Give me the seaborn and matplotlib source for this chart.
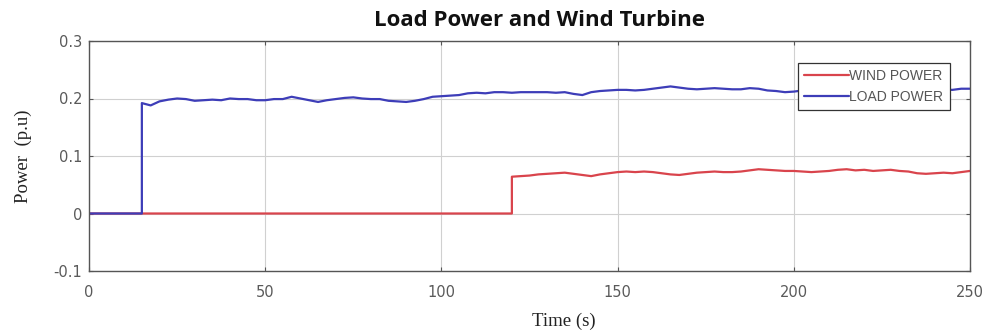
import numpy as np
import pandas as pd
import matplotlib
matplotlib.use("Agg")
import matplotlib.pyplot as plt
import seaborn as sns

# ---- data ----
load_t = [0, 15, 15, 17.5, 20, 22.5, 25, 27.5, 30, 32.5, 35, 37.5, 40, 42.5, 45, 47.5, 50,
          52.5, 55, 57.5, 60, 62.5, 65, 67.5, 70, 72.5, 75, 77.5, 80, 82.5, 85, 87.5, 90,
          92.5, 95, 97.5, 100, 102.5, 105, 107.5, 110, 112.5, 115, 117.5, 120, 122.5, 125,
          127.5, 130, 132.5, 135, 137.5, 140, 142.5, 145, 147.5, 150, 152.5, 155, 157.5,
          160, 162.5, 165, 167.5, 170, 172.5, 175, 177.5, 180, 182.5, 185, 187.5, 190,
          192.5, 195, 197.5, 200, 202.5, 205, 210, 215, 220, 225, 230, 235, 240, 245,
          247.5, 250]
load_p = [0, 0, 0.192, 0.188, 0.195, 0.198, 0.200, 0.199, 0.196, 0.197, 0.198, 0.197, 0.200,
          0.199, 0.199, 0.197, 0.197, 0.199, 0.199, 0.203, 0.200, 0.197, 0.194, 0.197, 0.199,
          0.201, 0.202, 0.200, 0.199, 0.199, 0.196, 0.195, 0.194, 0.196, 0.199, 0.203, 0.204,
          0.205, 0.206, 0.209, 0.210, 0.209, 0.211, 0.211, 0.210, 0.211, 0.211, 0.211, 0.211,
          0.210, 0.211, 0.208, 0.206, 0.211, 0.213, 0.214, 0.215, 0.215, 0.214, 0.215, 0.217,
          0.219, 0.221, 0.219, 0.217, 0.216, 0.217, 0.218, 0.217, 0.216, 0.216, 0.218, 0.217,
          0.214, 0.213, 0.211, 0.212, 0.214, 0.215, 0.214, 0.216, 0.215, 0.214, 0.216, 0.215,
          0.216, 0.215, 0.217, 0.217]

wind_t = [0, 120, 120, 122.5, 125, 127.5, 130, 132.5, 135, 137.5, 140, 142.5, 145, 147.5,
          150, 152.5, 155, 157.5, 160, 162.5, 165, 167.5, 170, 172.5, 175, 177.5, 180,
          182.5, 185, 187.5, 190, 192.5, 195, 197.5, 200, 202.5, 205, 207.5, 210, 212.5,
          215, 217.5, 220, 222.5, 225, 227.5, 230, 232.5, 235, 237.5, 240, 242.5, 245,
          247.5, 250]
wind_p = [0, 0, 0.064, 0.065, 0.066, 0.068, 0.069, 0.070, 0.071, 0.069, 0.067, 0.065, 0.068,
          0.070, 0.072, 0.073, 0.072, 0.073, 0.072, 0.070, 0.068, 0.067, 0.069, 0.071, 0.072,
          0.073, 0.072, 0.072, 0.073, 0.075, 0.077, 0.076, 0.075, 0.074, 0.074, 0.073, 0.072,
          0.073, 0.074, 0.076, 0.077, 0.075, 0.076, 0.074, 0.075, 0.076, 0.074, 0.073, 0.070,
          0.069, 0.070, 0.071, 0.070, 0.072, 0.074]

series_names = ["WIND POWER", "LOAD POWER"]
series_colors = ["#d9444c", "#3d3db8"]
x_ticks = [0, 50, 100, 150, 200, 250]
y_ticks = [-0.1, 0, 0.1, 0.2, 0.3]
y_tick_labels = ["-0.1", "0", "0.1", "0.2", "0.3"]

df = pd.concat([
    pd.DataFrame({"t": wind_t, "p": wind_p, "series": series_names[0]}),
    pd.DataFrame({"t": load_t, "p": load_p, "series": series_names[1]}),
], ignore_index=True)

sns.set_style("whitegrid", {
    "axes.edgecolor": "#4d4d4d",
    "grid.color": "#d0d0d0",
    "xtick.direction": "in",
    "ytick.direction": "in",
    "xtick.bottom": True,
    "ytick.left": True,
    "xtick.top": True,
    "ytick.right": True,
})
plt.rcParams["font.family"] = ["Liberation Sans", "DejaVu Sans"]

fig = plt.figure(figsize=(9.84, 3.33), dpi=100)
ax = fig.add_axes([89 / 984, 1 - 271 / 333, (970 - 89) / 984, (271 - 41) / 333])

sns.lineplot(data=df, x="t", y="p", hue="series", hue_order=series_names,
             palette=series_colors, estimator=None, sort=False,
             linewidth=1.6, ax=ax)

ax.set_xlim(0, 250)
ax.set_ylim(-0.1, 0.3)
ax.set_xticks(x_ticks)
ax.set_yticks(y_ticks)
ax.set_xticklabels([str(v) for v in x_ticks])
ax.set_yticklabels(y_tick_labels)
ax.tick_params(axis="both", labelsize=10.5, colors="#555555", length=3, width=0.8,
               labelcolor="#5a5a5a")
for lab in ax.get_xticklabels() + ax.get_yticklabels():
    lab.set_family(["DejaVu Sans"])
ax.tick_params(axis="x", pad=10)
ax.tick_params(axis="y", pad=5)
for s in ax.spines.values():
    s.set_linewidth(1.0)
    s.set_color("#555555")
ax.grid(True, color="#d0d0d0", linewidth=0.8)

ax.set_xlabel("Time (s)", family=["Liberation Serif"], fontsize=13.5, color="#222222")
ax.set_ylabel("Power  (p.u)", family=["Liberation Serif"], fontsize=13.5, color="#222222")
ax.xaxis.set_label_coords((564 - 89) / 881, -0.183)
ax.yaxis.set_label_coords(-0.065, 0.5)

fig.text(539 / 984, 1 - 21 / 333, "Load Power and Wind Turbine", ha="center", va="center",
         fontsize=16, fontweight="bold", family=["Open Sans", "DejaVu Sans"],
         color="#111111")

leg = ax.legend(loc="upper right", bbox_to_anchor=(0.977, 0.904), borderaxespad=0,
                frameon=True, fancybox=False, fontsize=10, handlelength=3.2,
                handletextpad=0.05, borderpad=0.45, labelspacing=0.45, title=None)
leg.get_frame().set_edgecolor("#333333")
leg.get_frame().set_linewidth(0.9)
leg.get_frame().set_alpha(1)
for txt in leg.get_texts():
    txt.set_color("#555555")

fig.savefig("out.png", dpi=100)
